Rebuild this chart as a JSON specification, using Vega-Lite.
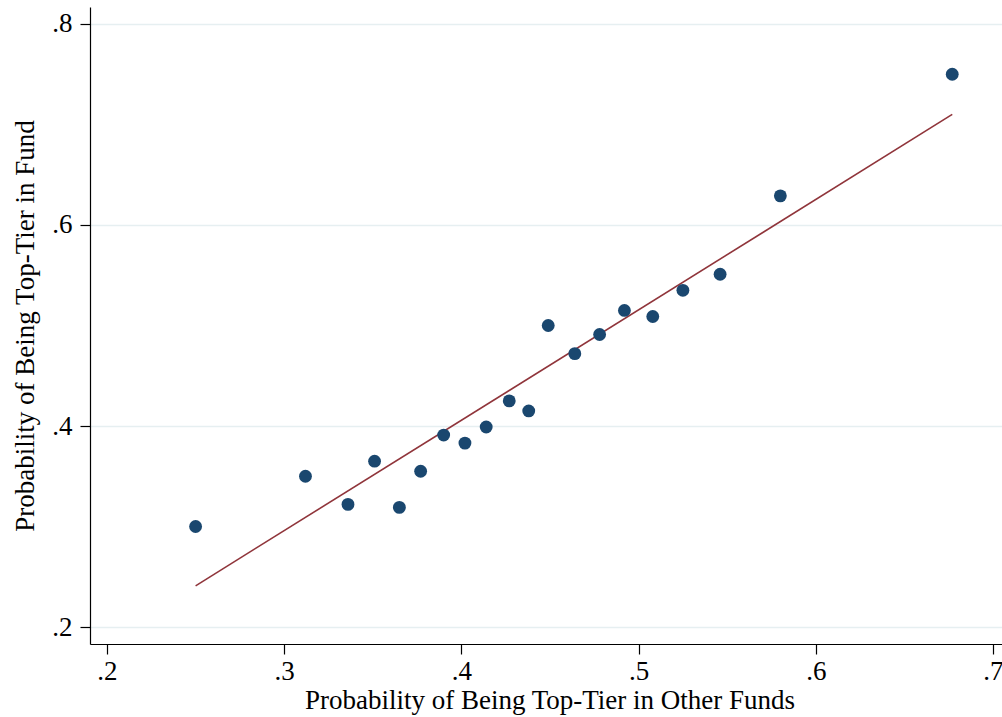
{
  "$schema": "https://vega.github.io/schema/vega-lite/v6.json",
  "width": 912,
  "height": 637,
  "autosize": "none",
  "padding": {"left": 90, "top": 7, "right": 0, "bottom": 73},
  "background": "white",
  "config": {
    "view": {"stroke": null},
    "font": "Liberation Serif"
  },
  "datasets": {
    "points": [
      {"other": 0.250, "fund": 0.300},
      {"other": 0.312, "fund": 0.350},
      {"other": 0.336, "fund": 0.322},
      {"other": 0.351, "fund": 0.365},
      {"other": 0.365, "fund": 0.319},
      {"other": 0.377, "fund": 0.355},
      {"other": 0.390, "fund": 0.391},
      {"other": 0.402, "fund": 0.383},
      {"other": 0.414, "fund": 0.399},
      {"other": 0.427, "fund": 0.425},
      {"other": 0.438, "fund": 0.415},
      {"other": 0.449, "fund": 0.500},
      {"other": 0.464, "fund": 0.472},
      {"other": 0.478, "fund": 0.491},
      {"other": 0.492, "fund": 0.515},
      {"other": 0.508, "fund": 0.509},
      {"other": 0.525, "fund": 0.535},
      {"other": 0.546, "fund": 0.551},
      {"other": 0.580, "fund": 0.629},
      {"other": 0.677, "fund": 0.750}
    ],
    "fit": [
      {"other": 0.250, "fund": 0.241},
      {"other": 0.677, "fund": 0.710}
    ]
  },
  "layer": [
    {
      "data": {"name": "fit"},
      "mark": {"type": "line", "color": "#90353b", "strokeWidth": 1.6, "clip": true},
      "encoding": {
        "x": {
          "field": "other", "type": "quantitative",
          "scale": {"domain": [0.19041, 0.70508], "nice": false, "zero": false},
          "axis": {
            "title": "Probability of Being Top-Tier in Other Funds",
            "values": [0.2, 0.3, 0.4, 0.5, 0.6, 0.7],
            "labelExpr": "replace(format(datum.value, '.1f'), '0.', '.')",
            "grid": false,
            "domainColor": "black", "domainWidth": 1.2,
            "tickColor": "black", "tickSize": 10, "tickWidth": 1.2,
            "labelFont": "Liberation Serif", "labelFontSize": 27, "labelColor": "black",
            "labelBaseline": "alphabetic", "labelPadding": 25, "labelFlush": false, "labelOverlap": false,
            "titleFont": "Liberation Serif", "titleFontSize": 27, "titleFontWeight": "normal", "titleColor": "black",
            "titleBaseline": "alphabetic", "titleY": 64, "titleX": 459.5, "titleAlign": "center"
          }
        },
        "y": {
          "field": "fund", "type": "quantitative",
          "scale": {"domain": [0.1831, 0.8169], "nice": false, "zero": false},
          "axis": {
            "title": "Probability of Being Top-Tier in Fund",
            "values": [0.2, 0.4, 0.6, 0.8],
            "labelExpr": "replace(format(datum.value, '.1f'), '0.', '.')",
            "grid": true, "gridColor": "#e6eff1", "gridWidth": 1.5,
            "domainColor": "black", "domainWidth": 1.2,
            "tickColor": "black", "tickSize": 10, "tickWidth": 1.2,
            "labelFont": "Liberation Serif", "labelFontSize": 27, "labelColor": "black",
            "labelPadding": 8, "labelFlush": false, "labelOverlap": false,
            "titleFont": "Liberation Serif", "titleFontSize": 27, "titleFontWeight": "normal", "titleColor": "black",
            "titleBaseline": "alphabetic", "titleX": -57
          }
        }
      }
    },
    {
      "data": {"name": "points"},
      "mark": {"type": "circle", "color": "#1a476f", "opacity": 1, "size": 165},
      "encoding": {
        "x": {"field": "other", "type": "quantitative"},
        "y": {"field": "fund", "type": "quantitative"}
      }
    }
  ]
}
